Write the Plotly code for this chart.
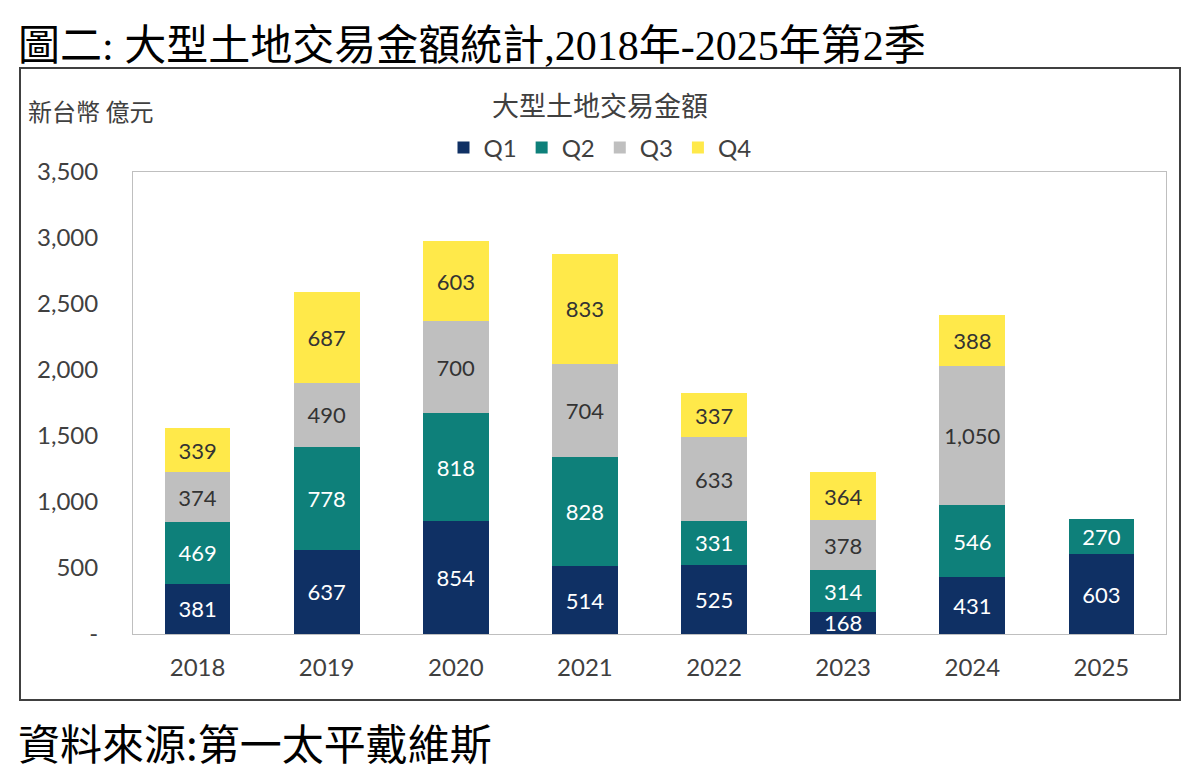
import plotly.graph_objects as go

years = ["2018", "2019", "2020", "2021", "2022", "2023", "2024", "2025"]
q1 = [381, 637, 854, 514, 525, 168, 431, 603]
q2 = [469, 778, 818, 828, 331, 314, 546, 270]
q3 = [374, 490, 700, 704, 633, 378, 1050, None]
q4 = [339, 687, 603, 833, 337, 364, 388, None]
series = [("Q1", q1, "#0F3064", "white"),
          ("Q2", q2, "#0E807A", "white"),
          ("Q3", q3, "#BFBFBF", "#333333"),
          ("Q4", q4, "#FFE94A", "#333333")]
ytickvals = [0, 500, 1000, 1500, 2000, 2500, 3000, 3500]
yticktext = ["-", "500", "1,000", "1,500", "2,000", "2,500", "3,000", "3,500"]

num_font = "Lato, Noto Sans, sans-serif"
cjk_font = "Noto Sans CJK TC, sans-serif"

fig = go.Figure()
for name, vals, color, tcolor in series:
    fig.add_trace(go.Bar(
        x=years, y=vals, name=name,
        marker=dict(color=color, line=dict(width=0)),
        texttemplate="%{y:,}", textposition="inside",
        insidetextanchor="middle", textangle=0,
        textfont=dict(color=tcolor, size=22, family=num_font),
        hoverinfo="skip",
    ))

OFF = 8  # default body margin of the html page
W, H = 1200 - OFF, 774 - OFF
L, R, T, B = 133 - OFF, 34, 172 - OFF, 140
pw, ph = W - L - R, H - T - B

def px(x):
    return (x - OFF - L) / pw

def py(y):
    return (H + OFF - B - y) / ph

fig.update_layout(
    width=W, height=H, barmode="stack", bargap=0.49,
    margin=dict(l=L, r=R, t=T, b=B),
    paper_bgcolor="white", plot_bgcolor="white",
    uniformtext=dict(minsize=22, mode="show"),
    showlegend=True,
    legend=dict(orientation="h", x=px(600), xanchor="center", y=py(148), yanchor="middle",
                font=dict(size=24, family=num_font, color="#404040"),
                itemwidth=30, traceorder="normal", bgcolor="rgba(0,0,0,0)"),
    xaxis=dict(showgrid=False, showline=True, linecolor="#BFBFBF", mirror=True,
               ticks="", tickfont=dict(size=24, family=num_font, color="#404040"),
               ticklabelstandoff=12),
    yaxis=dict(range=[0, 3500], tickvals=ytickvals, ticktext=yticktext,
               showgrid=False, showline=True, linecolor="#BFBFBF", mirror=True,
               ticks="", tickfont=dict(size=24, family=num_font, color="#404040"),
               ticklabelstandoff=29, zeroline=False),
    shapes=[dict(type="rect", xref="paper", yref="paper",
                 x0=px(20), x1=px(1180), y0=py(700), y1=py(68),
                 line=dict(color="#404040", width=2), fillcolor="rgba(0,0,0,0)", layer="below")],
    annotations=[
        dict(text="圖二: 大型土地交易金額統計,2018年-2025年第2季", xref="paper", yref="paper",
             x=px(16), y=py(46), xanchor="left", yanchor="middle", showarrow=False,
             font=dict(size=42, family="Liberation Serif, Noto Sans CJK TC", color="black")),
        dict(text="大型土地交易金額", xref="paper", yref="paper",
             x=px(600), y=py(104), xanchor="center", yanchor="middle", showarrow=False,
             font=dict(size=27, family=cjk_font, color="#404040")),
        dict(text="新台幣 億元", xref="paper", yref="paper",
             x=px(26), y=py(110), xanchor="left", yanchor="middle", showarrow=False,
             font=dict(size=24, family=cjk_font, color="#404040")),
        dict(text="資料來源:第一太平戴維斯", xref="paper", yref="paper",
             x=px(16), y=py(741), xanchor="left", yanchor="middle", showarrow=False,
             font=dict(size=42, family=cjk_font, color="black")),
    ],
)

fig.write_html("out.html")
